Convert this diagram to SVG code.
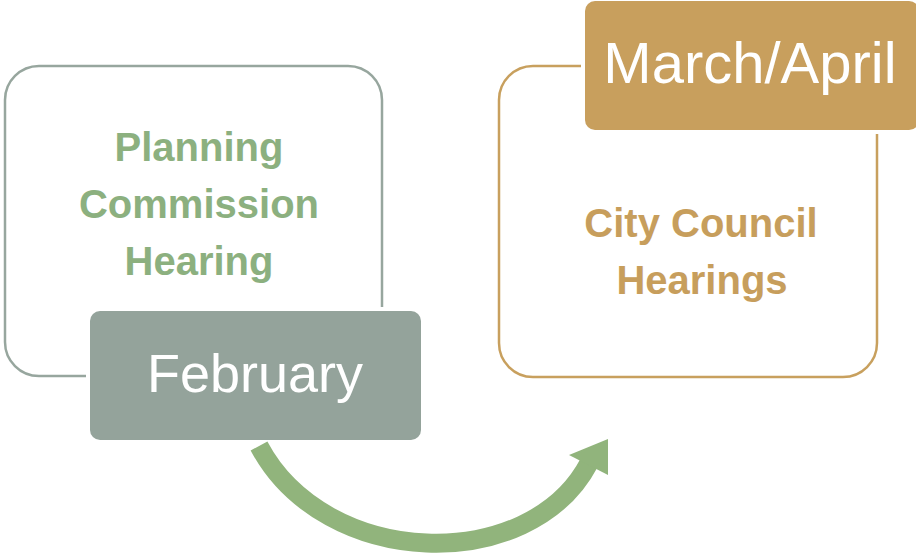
<svg xmlns="http://www.w3.org/2000/svg" width="916" height="553" viewBox="0 0 916 553">
<style>
.title{font-family:"Liberation Sans",Arial,sans-serif;font-weight:bold;font-size:40px;text-anchor:middle}
.label{font-family:"Liberation Sans",Arial,sans-serif;fill:#ffffff;text-anchor:middle}
.outline{fill:none;stroke-width:2.5}
.gap{fill:#ffffff}
</style>
<rect width="916" height="553" fill="#ffffff"/>
<g id="planning">
  <rect class="outline" x="5" y="66" width="377" height="310" rx="34" stroke="#97a69e"/>
  <text class="title" fill="#8cb07f"><tspan x="199" y="161">Planning</tspan><tspan x="199" y="218">Commission</tspan><tspan x="199" y="275">Hearing</tspan></text>
</g>
<g id="february">
  <rect class="gap" x="86" y="307" width="339" height="137" rx="13"/>
  <rect x="90" y="311" width="331" height="129" rx="10" fill="#94a39b"/>
  <text class="label" x="255" y="392" font-size="54">February</text>
</g>
<g id="council">
  <rect class="outline" x="499" y="66" width="378" height="311" rx="34" stroke="#c8a05e"/>
  <text class="title" fill="#c79e5c"><tspan x="701" y="237">City Council</tspan><tspan x="702" y="294">Hearings</tspan></text>
</g>
<g id="marchapril">
  <rect class="gap" x="581" y="-3" width="342" height="137" rx="13"/>
  <rect x="585" y="1" width="334" height="129" rx="10" fill="#c89f5d"/>
  <text class="label" x="750" y="83" font-size="58">March/April</text>
</g>
<g id="connectors">
  <path d="M 259 446 C 325 570, 530 575, 589 463" fill="none" stroke="#91b47c" stroke-width="19"/>
  <polygon points="608,439 569,455 608,475" fill="#91b47c"/>
</g>
</svg>
